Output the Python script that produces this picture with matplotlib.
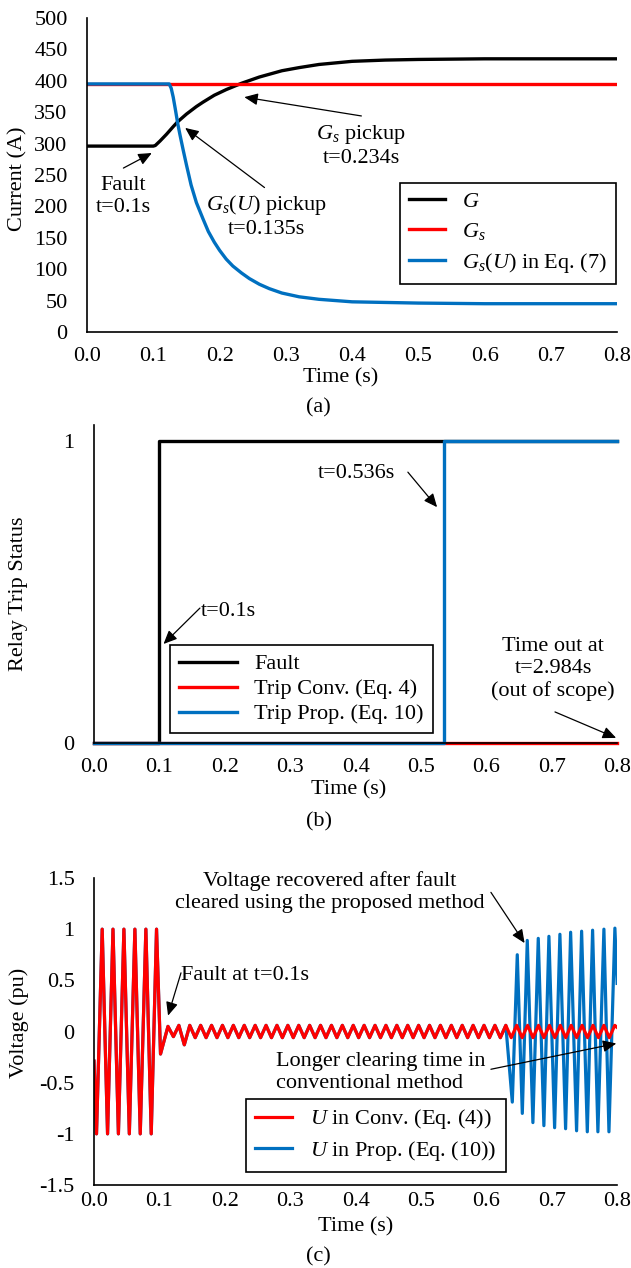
import matplotlib.pyplot as plt
import numpy as np

plt.rcParams['font.family'] = 'Liberation Serif'
plt.rcParams['font.size'] = 16
plt.rcParams['mathtext.fontset'] = 'custom'
plt.rcParams['mathtext.rm'] = 'Liberation Serif'
plt.rcParams['mathtext.it'] = 'Liberation Serif:italic'
plt.rcParams['axes.unicode_minus'] = False

BLACK = 'black'
RED = '#FF0000'
BLUE = '#0070C0'

# ---- (a) currents ----
t_g = [0.0, 0.1, 0.103, 0.11, 0.12, 0.13, 0.137, 0.15, 0.165, 0.175, 0.192,
       0.21, 0.233, 0.26, 0.294, 0.32, 0.35, 0.4, 0.45, 0.5, 0.6, 0.8]
g_vals = [296, 296, 297, 304, 315, 327, 335, 347, 359, 366, 377,
          386, 396, 406, 416, 421, 426, 431, 433, 434, 435, 435]

t_gs = [0.0, 0.8]
gs_vals = [395, 395]

t_gsu = [0.0, 0.124, 0.127, 0.13, 0.133, 0.137, 0.14, 0.145, 0.15, 0.157,
         0.165, 0.175, 0.183, 0.192, 0.2, 0.21, 0.22, 0.233, 0.245, 0.26,
         0.275, 0.294, 0.32, 0.35, 0.4, 0.45, 0.5, 0.6, 0.8]
gsu_vals = [395, 395, 388, 374, 356, 331, 315, 290, 266, 234,
            206, 180, 160, 143, 130, 116, 105, 94, 85, 76,
            69, 62, 56, 52, 48, 47, 46, 45, 45]

# ---- (b) relay trip status ----
t_fault = [0.0, 0.1, 0.1, 0.8]
fault_vals = [0, 0, 1, 1]
t_conv = [0.0, 0.8]
conv_vals = [0, 0]
t_prop = [0.0, 0.536, 0.536, 0.8]
prop_vals = [0, 0, 1, 1]

# ---- (c) voltage: extrema of the waveform ----
period = 1 / 60
pre_t = [0.0, 0.0038, 0.0125, 0.0207, 0.0290, 0.0373, 0.0457, 0.0540,
         0.0625, 0.0707, 0.0793, 0.0875, 0.0956, 0.1017]
pre_v = [-0.29, -1.0, 1.0, -1.0, 1.0, -1.0, 1.0, -1.0,
         1.0, -1.0, 1.0, -1.0, 1.0, -0.22]

ripple_peaks = [0.05, 0.06, 0.06, 0.06, 0.06, 0.06, 0.06, 0.06, 0.06, 0.06,
                0.06, 0.06, 0.06, 0.06, 0.06, 0.06, 0.06, 0.06, 0.06, 0.06,
                0.06, 0.06, 0.06, 0.06, 0.06, 0.06, 0.06, 0.06, 0.06, 0.06,
                0.06, 0.06, 0.06, 0.06, 0.06, 0.06, 0.06, 0.06, 0.06, 0.06,
                0.06, 0.06]
ripple_troughs = [-0.05, -0.13, -0.06, -0.06, -0.06, -0.06, -0.06, -0.06,
                  -0.06, -0.06, -0.06, -0.06, -0.06, -0.06, -0.06, -0.06,
                  -0.06, -0.06, -0.06, -0.06, -0.06, -0.06, -0.06, -0.06,
                  -0.06, -0.06, -0.06, -0.06, -0.06, -0.06, -0.06, -0.06,
                  -0.06, -0.06, -0.06, -0.06, -0.06, -0.06, -0.06, -0.06,
                  -0.06]
conv_end = (0.8, 0.04)

rec_t = [0.6397, 0.6473, 0.6550, 0.6626, 0.6712, 0.6794, 0.6880, 0.6957,
         0.7044, 0.7125, 0.7212, 0.7289, 0.7380, 0.7457, 0.7544, 0.7625,
         0.7706, 0.7798, 0.7875, 0.7966, 0.8]
rec_v = [-0.69, 0.75, -0.80, 0.89, -0.89, 0.91, -0.92, 0.93,
         -0.94, 0.95, -0.95, 0.97, -0.97, 0.98, -0.98, 0.99,
         -0.98, 1.0, -0.98, 1.01, 0.47]

peak_t = 0.1131 + period * np.arange(len(ripple_peaks))
trough_t = 0.1214 + period * np.arange(len(ripple_troughs))
rip_t = np.concatenate([peak_t, trough_t])
rip_v = np.concatenate([ripple_peaks, ripple_troughs])
order = np.argsort(rip_t)

u_conv_t = np.concatenate([pre_t, rip_t[order], [conv_end[0]]])
u_conv_v = np.concatenate([pre_v, rip_v[order], [conv_end[1]]])
keep = u_conv_t < 0.632
u_prop_t = np.concatenate([u_conv_t[keep], rec_t])
u_prop_v = np.concatenate([u_conv_v[keep], rec_v])

fig = plt.figure(figsize=(6.31, 12.68), dpi=100)
ax_a = fig.add_axes([0.138, 0.7382, 0.840, 0.2476])
ax_b = fig.add_axes([0.149, 0.4140, 0.829, 0.2508])
ax_c = fig.add_axes([0.149, 0.06546, 0.829, 0.2421])

arrow = dict(arrowstyle='-|>,head_length=0.45,head_width=0.2', color='black',
             lw=0.9, shrinkA=0, shrinkB=0, mutation_scale=18)


def style_axes(ax, xpad):
    for side in ['top', 'right']:
        ax.spines[side].set_visible(False)
    for side in ['left', 'bottom']:
        ax.spines[side].set_linewidth(1.2)
    ax.tick_params(axis='x', length=0, pad=xpad, labelsize=16)
    ax.tick_params(axis='y', length=0, pad=14, labelsize=16)
    ax.set_xlim(0, 0.8)
    ax.set_xticks(np.arange(0, 0.81, 0.1))
    ax.set_xticklabels([f"{v:.1f}" for v in np.arange(0, 0.81, 0.1)])


def add_arrow(ax, tail, head):
    ax.annotate('', xy=head, xytext=tail, arrowprops=arrow)


# (a)
ax = ax_a
ax.plot(t_g, g_vals, color=BLACK, lw=2.4, label='$G$')
ax.plot(t_gs, gs_vals, color=RED, lw=2.4, label='$G_s$')
ax.plot(t_gsu, gsu_vals, color=BLUE, lw=2.4, label='$G_s(U)$ in Eq. (7)')
style_axes(ax, 11)
ax.set_ylim(0, 500)
ax.set_yticks(range(0, 501, 50))
leg = ax.legend(loc='upper right', bbox_to_anchor=(0.998, 0.476), borderaxespad=0,
                fancybox=False, framealpha=1, edgecolor='black', fontsize=16,
                handlelength=1.6, labelspacing=0.4)
leg.get_frame().set_linewidth(1.2)
ax.text(0.0543, 216, 'Fault\nt=0.1s', ha='center', va='center')
add_arrow(ax, (0.0548, 261), (0.0977, 285))
ax.text(0.270, 185, '$G_s(U)$ pickup\nt=0.135s', ha='center', va='center')
add_arrow(ax, (0.2678, 230), (0.148, 325))
ax.text(0.4136, 297, '$G_s$ pickup\nt=0.234s', ha='center', va='center')
add_arrow(ax, (0.414, 344), (0.2373, 374))
ax.set_xlabel('Time (s)', va='center')
ax.xaxis.set_label_coords(0.479, -0.147)
ax.set_ylabel('Current (A)', va='center')
ax.yaxis.set_label_coords(-0.130, 0.487)

# (b)
ax = ax_b
ax.plot(t_fault, fault_vals, color=BLACK, lw=2.4, label='Fault', clip_on=False)
ax.plot(t_conv, conv_vals, color=RED, lw=2.4, label='Trip Conv. (Eq. 4)', clip_on=False)
ax.plot(t_prop, prop_vals, color=BLUE, lw=2.4, label='Trip Prop. (Eq. 10)', clip_on=False)
style_axes(ax, 11)
ax.set_ylim(0, 1.053)
ax.set_yticks([0, 1])
leg = ax.legend(loc='lower left', bbox_to_anchor=(0.145, 0.031), borderaxespad=0,
                fancybox=False, framealpha=1, edgecolor='black', fontsize=16,
                handlelength=2.6, labelspacing=0.2)
leg.get_frame().set_linewidth(1.2)
ax.text(0.402, 0.894, 't=0.536s', ha='center', va='center')
add_arrow(ax, (0.480, 0.897), (0.5247, 0.781))
ax.text(0.205, 0.434, 't=0.1s', ha='center', va='center')
add_arrow(ax, (0.162, 0.447), (0.1063, 0.328))
ax.text(0.702, 0.245, 'Time out at\nt=2.984s\n(out of scope)', ha='center', va='center')
add_arrow(ax, (0.705, 0.103), (0.7985, 0.017))
ax.set_xlabel('Time (s)', va='center')
ax.xaxis.set_label_coords(0.487, -0.148)
ax.set_ylabel('Relay Trip Status', va='center')
ax.yaxis.set_label_coords(-0.145, 0.47)

# (c)
ax = ax_c
ax.plot(u_prop_t, u_prop_v, color=BLUE, lw=2.3, label='$U$ in Prop. (Eq. (10))')
ax.plot(u_conv_t, u_conv_v, color=RED, lw=2.3, label='$U$ in Conv. (Eq. (4))')
style_axes(ax, 5)
ax.set_ylim(-1.5, 1.5)
yt = [-1.5, -1, -0.5, 0, 0.5, 1, 1.5]
ax.set_yticks(yt)
ax.set_yticklabels(['-1.5', '-1', '-0.5', '0', '0.5', '1', '1.5'])
h, l = ax.get_legend_handles_labels()
leg = ax.legend(h[::-1], l[::-1], loc='lower left', bbox_to_anchor=(0.29, 0.042),
                borderaxespad=0, fancybox=False, framealpha=1, edgecolor='black',
                fontsize=16, handlelength=1.7, labelspacing=0.35)
leg.get_frame().set_linewidth(1.2)
ax.text(0.360, 1.36, 'Voltage recovered after fault\ncleared using the proposed method',
        ha='center', va='center')
add_arrow(ax, (0.607, 1.36), (0.6585, 0.864))
ax.text(0.133, 0.544, 'Fault at t=0.1s', ha='left', va='center')
add_arrow(ax, (0.133, 0.573), (0.1132, 0.155))
ax.text(0.2787, -0.40, 'Longer clearing time in\nconventional method', ha='left', va='center')
add_arrow(ax, (0.607, -0.369), (0.7988, -0.117))
ax.set_xlabel('Time (s)', va='center')
ax.xaxis.set_label_coords(0.5, -0.137)
ax.set_ylabel('Voltage (pu)', va='center')
ax.yaxis.set_label_coords(-0.144, 0.528)

fig.text(0.505, 1 - 408 / 1268, '(a)', ha='center', va='center', fontsize=16)
fig.text(0.505, 1 - 822 / 1268, '(b)', ha='center', va='center', fontsize=16)
fig.text(0.505, 1 - 1257 / 1268, '(c)', ha='center', va='center', fontsize=16)

fig.savefig('out.png', dpi=100)
